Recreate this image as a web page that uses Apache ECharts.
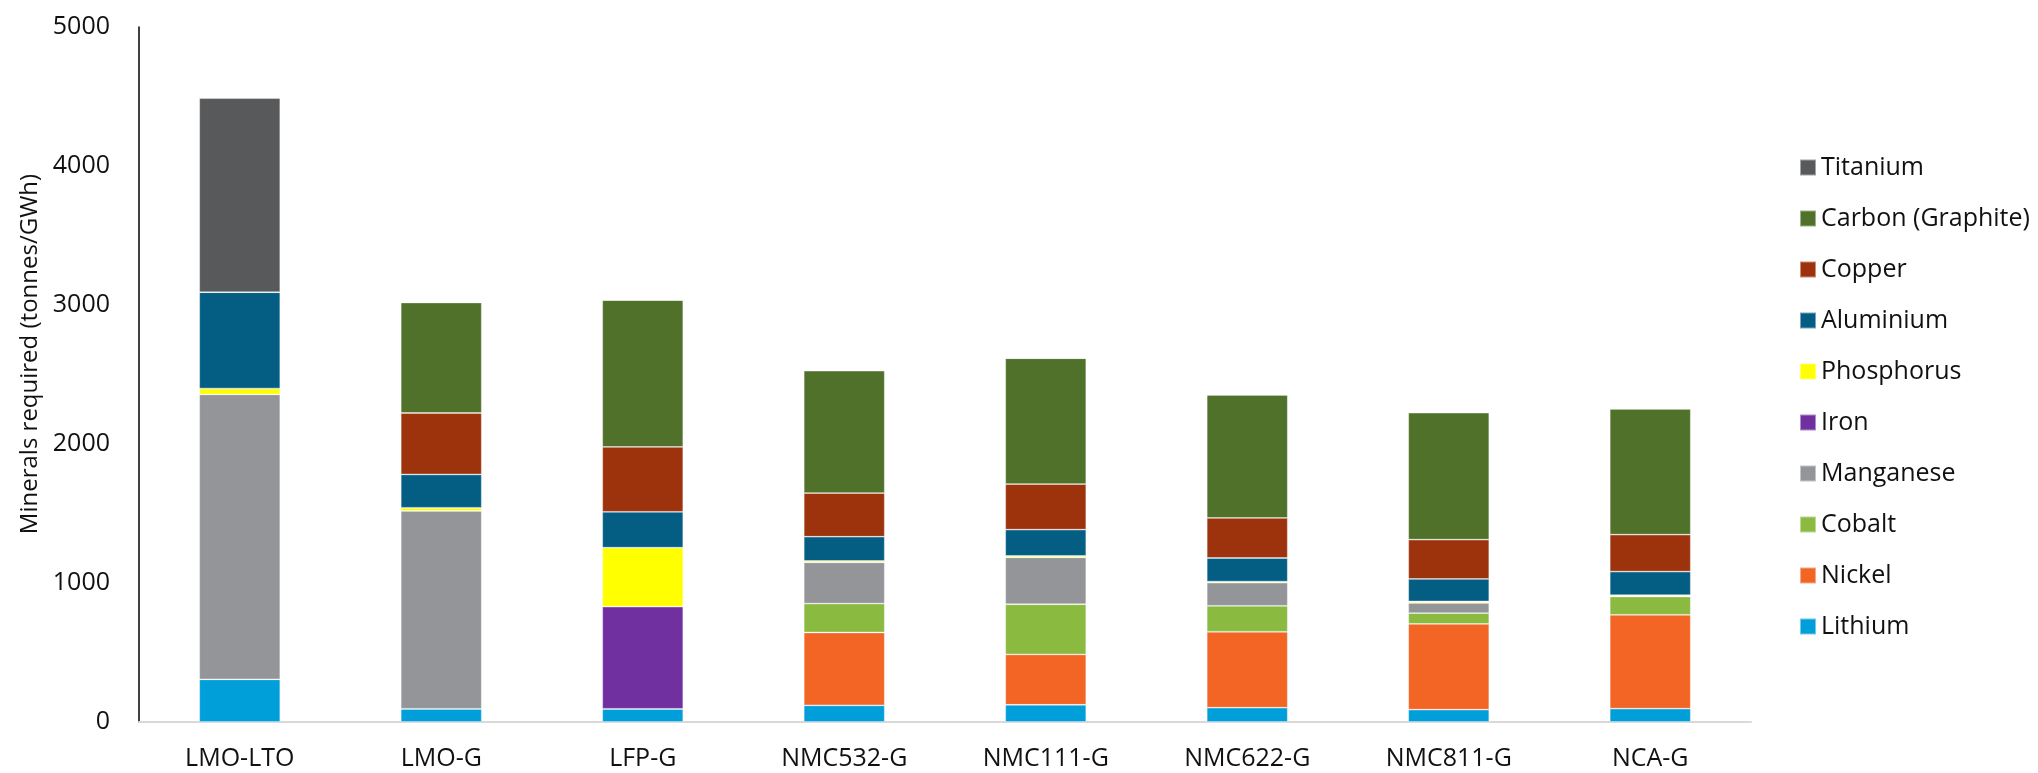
<!DOCTYPE html>
<html>
<head>
<meta charset="utf-8">
<script src="https://cdn.jsdelivr.net/npm/echarts@6/dist/echarts.min.js"></script>
<style>
html,body{margin:0;padding:0;background:#fff;}
#chart{width:2038px;height:773px;}
</style>
</head>
<body>
<div id="chart"></div>
<script>
const categories = ['LMO-LTO','LMO-G','LFP-G','NMC532-G','NMC111-G','NMC622-G','NMC811-G','NCA-G'];
const lithium    = [307, 95, 95, 120, 124, 103, 89, 96];
const nickel     = [0, 0, 0, 524, 362, 546, 617, 675];
const cobalt     = [0, 0, 0, 208, 361, 187, 77, 132];
const manganese  = [2050, 1424, 0, 297, 338, 167, 74, 0];
const iron       = [0, 0, 735, 0, 0, 0, 0, 0];
const phosphorus = [42, 22, 424, 10, 10, 7, 10, 9];
const aluminium  = [693, 240, 258, 174, 189, 170, 162, 170];
const copper     = [0, 442, 467, 314, 328, 288, 283, 266];
const carbon     = [0, 795, 1056, 881, 905, 885, 914, 905];
const titanium   = [1396, 0, 0, 0, 0, 0, 0, 0];
const yTicks = [0, 1000, 2000, 3000, 4000, 5000];
const yTitle = 'Minerals required (tonnes/GWh)';

const FONT = '"Open Sans", "Noto Sans", sans-serif';
const seriesDefs = [
  ['Lithium', lithium, '#009FDA'],
  ['Nickel', nickel, '#F26524'],
  ['Cobalt', cobalt, '#8ABA40'],
  ['Manganese', manganese, '#939598'],
  ['Iron', iron, '#7030A0'],
  ['Phosphorus', phosphorus, '#FFFF00'],
  ['Aluminium', aluminium, '#045E84'],
  ['Copper', copper, '#9C330C'],
  ['Carbon (Graphite)', carbon, '#507129'],
  ['Titanium', titanium, '#58595B']
];

const chart = echarts.init(document.getElementById('chart'), null, {renderer:'canvas'});
chart.setOption({
  backgroundColor: '#ffffff',
  animation: false,
  grid: {left: 139, right: 287, top: 27, bottom: 51, containLabel: false},
  graphic: [{
    type: 'text',
    x: 30, y: 354,
    rotation: Math.PI / 2,
    style: {text: yTitle, fontFamily: FONT, fontSize: 24, fill: '#111', align: 'center', verticalAlign: 'middle'}
  }],
  legend: {
    orient: 'vertical',
    left: 1794,
    top: 150,
    itemWidth: 16,
    itemHeight: 16,
    itemGap: 26,
    icon: 'rect',
    data: seriesDefs.map(d => d[0]).reverse(),
    textStyle: {fontFamily: FONT, fontSize: 25, color: '#111', padding: [0,0,0,0]}
  },
  xAxis: {
    type: 'category',
    data: categories,
    axisLine: {lineStyle: {color: '#D9D9D9', width: 2}},
    axisTick: {show: false},
    axisLabel: {fontFamily: FONT, fontSize: 25, color: '#111', margin: 24}
  },
  yAxis: {
    type: 'value',
    min: yTicks[0],
    max: yTicks[yTicks.length - 1],
    interval: 1000,
    axisLine: {show: true, lineStyle: {color: '#000', width: 1.5}},
    axisTick: {show: false},
    splitLine: {show: false},
    axisLabel: {fontFamily: FONT, fontSize: 25, color: '#111', margin: 29, formatter: v => String(v)}
  },
  series: seriesDefs.map(([name, data, color]) => ({
    name, type: 'bar', stack: 'total', data,
    barWidth: 81,
    itemStyle: {color, borderColor: 'rgba(255,255,255,0.45)', borderWidth: 0.8}
  }))
});
</script>
</body>
</html>
